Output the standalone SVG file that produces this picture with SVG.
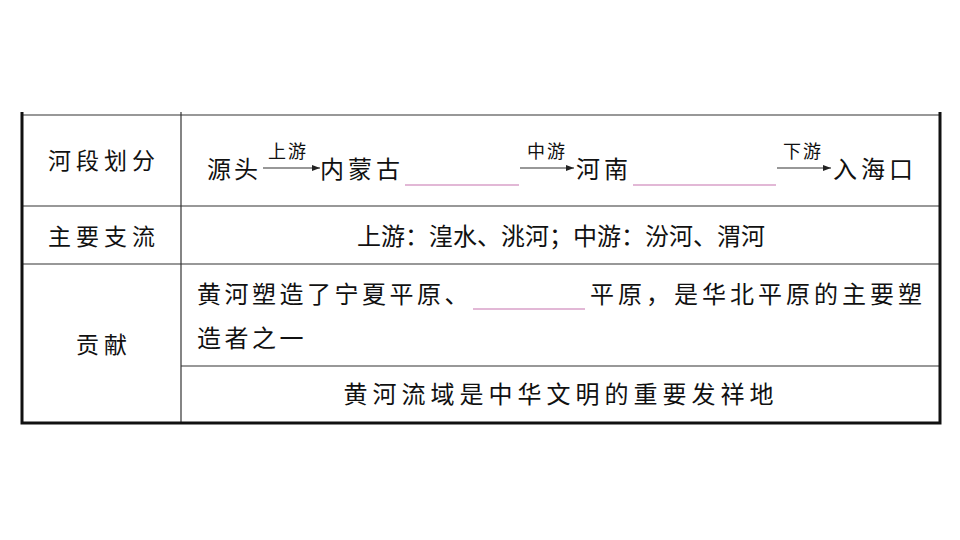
<svg xmlns="http://www.w3.org/2000/svg" width="960" height="540" viewBox="0 0 960 540">
<style>
text{font-family:"Noto Sans CJK SC","Noto Sans",sans-serif;fill:#111;font-size:24px}
.s{font-size:18px;letter-spacing:2px}
.l{font-size:23px;letter-spacing:5px}
.thin{stroke:#333;stroke-width:1.2;fill:none}
.thick{stroke:#111;stroke-width:3;fill:none}
.blank{stroke:#d9a0c8;stroke-width:1.5}
.arr{stroke:#333;stroke-width:1.2}
</style>
<defs><marker id="ah" markerWidth="8" markerHeight="6" refX="8" refY="3" orient="auto" markerUnits="userSpaceOnUse"><path d="M0,0L8,3L0,6Z" fill="#222"/></marker></defs>
<g id="table">
<line class="thin" x1="22" y1="115" x2="940" y2="115" stroke="#888"/>
<line class="thin" x1="22" y1="206" x2="940" y2="206"/>
<line class="thin" x1="22" y1="264" x2="940" y2="264"/>
<line class="thin" x1="181" y1="366" x2="940" y2="366" stroke="#888"/>
<line class="thin" x1="181" y1="112" x2="181" y2="423"/>
<path class="thick" d="M22,112V423H940V112"/>
</g>
<g id="row1">
<text x="104" y="169" text-anchor="middle" class="l">河段划分</text>
<text x="207" y="178" letter-spacing="3">源头</text>
<text x="268" y="158" class="s">上游</text>
<text x="320" y="178" letter-spacing="4">内蒙古</text>
<line class="blank" x1="405" y1="185" x2="519" y2="185"/>
<text x="527" y="158" class="s">中游</text>
<text x="576" y="178" letter-spacing="4">河南</text>
<line class="blank" x1="633" y1="185" x2="776" y2="185"/>
<text x="783" y="158" class="s">下游</text>
<text x="833" y="178" letter-spacing="4">入海口</text>
</g>
<g id="connectors">
<line class="arr" x1="263" y1="168" x2="320" y2="168" marker-end="url(#ah)"/>
<line class="arr" x1="520" y1="168" x2="574" y2="168" marker-end="url(#ah)"/>
<line class="arr" x1="777" y1="168" x2="831" y2="168" marker-end="url(#ah)"/>
</g>
<g id="row2">
<text x="104" y="245" text-anchor="middle" class="l">主要支流</text>
<text x="561" y="245" text-anchor="middle">上游：湟水、洮河；中游：汾河、渭河</text>
</g>
<g id="row3">
<text x="104" y="353" text-anchor="middle" class="l">贡献</text>
<text x="197" y="303" letter-spacing="3.5">黄河塑造了宁夏平原、</text>
<line class="blank" x1="473" y1="309" x2="585" y2="309"/>
<text x="590" y="303" letter-spacing="4">平原，是华北平原的主要塑</text>
<text x="197" y="347" letter-spacing="3.5">造者之一</text>
<text x="561" y="403" text-anchor="middle" letter-spacing="5">黄河流域是中华文明的重要发祥地</text>
</g>
</svg>
